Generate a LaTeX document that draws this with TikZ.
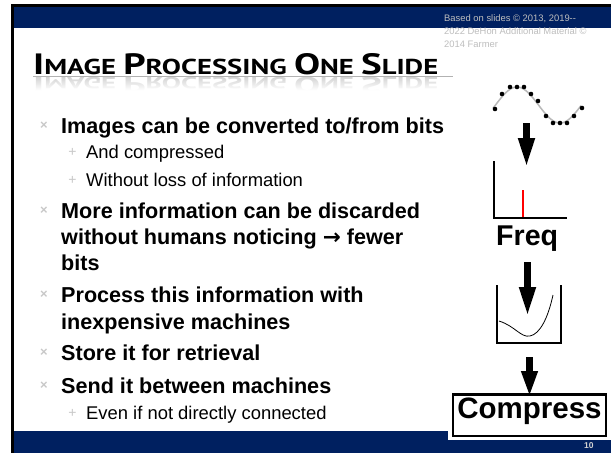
\documentclass[tikz,border=0pt]{standalone}
\usepackage{fontspec}
\usepackage{graphicx}
\setmainfont{Liberation Sans}
\newfontfamily\ptsans{PT Sans}
\newfontfamily\djv{DejaVu Sans}
\usetikzlibrary{arrows.meta}
\definecolor{navy}{RGB}{0,32,96}
\definecolor{copygray}{RGB}{190,190,190}
\definecolor{bulgray}{RGB}{200,200,200}
\newcommand\mytitletext{\ptsans\bfseries\fontsize{30}{30}\selectfont I\fontsize{22}{22}\selectfont MAGE \fontsize{30}{30}\selectfont P\fontsize{22}{22}\selectfont ROCESSING \fontsize{30}{30}\selectfont O\fontsize{22}{22}\selectfont NE \fontsize{30}{30}\selectfont S\fontsize{22}{22}\selectfont LIDE}
\begin{document}
\begin{tikzpicture}[x=1pt,y=-1pt,
  main/.style={anchor=base west, inner sep=0, font=\fontsize{21.6}{24}\selectfont\bfseries},
  subitem/.style={anchor=base west, inner sep=0, font=\fontsize{18.4}{22}\selectfont},
  bul/.style={anchor=center, inner sep=0, text=bulgray, font=\fontsize{13}{13}\selectfont\bfseries},
  subbul/.style={anchor=center, inner sep=0, text=bulgray, font=\fontsize{14}{14}\selectfont},
  copy/.style={anchor=base west, inner sep=0, text=copygray, font=\fontsize{9.4}{12}\selectfont},
  blockarrow/.style={line width=7pt, -{Triangle[length=30pt,width=15pt]}},
  axis/.style={line width=2.3pt},
  dot/.style={circle, fill=black, inner sep=0, minimum size=4.6pt}
]
\useasboundingbox (0,0) rectangle (611,453);
\fill[white] (0,0) rectangle (611,453);
% frame and bands
\fill[black] (11,4) rectangle (611,7);
\fill[navy] (14,7) rectangle (611,28);
\fill[navy] (14,431) rectangle (611,453);
\fill[black] (11,4) rectangle (14,453);
% copyright
\node[copy] (c1) at (444,21.5) {Based on slides \textcopyright{} 2013, 2019-{}-};
\node[copy] (c2) at (444,34.5) {2022 DeHon Additional Material \textcopyright};
\node[copy] (c3) at (444,47) {2014 Farmer};
% title reflection (compressed mirror, faded by white strips)
\node[anchor=base west, inner sep=0, text=gray!40] (titlerefl) at (33,77) {\scalebox{1}[-0.75]{\resizebox{405pt}{21pt}{\mytitletext}}};
\foreach \i [evaluate=\i as \op using 0.15+\i*0.065] in {0,...,13}
  \fill[white, opacity=\op] (30,{77+\i}) rectangle (460,{78.05+\i});
\fill[white] (30,91) rectangle (460,96);
% title
\node[anchor=base west, inner sep=0] (title) at (33,74) {\resizebox{405pt}{21pt}{\mytitletext}};
\draw[gray!60, line width=0.8pt] (33,76) -- (453,76);
% bullets
\node[bul] (b1) at (44,126) {×};
\node[main] (t1) at (61,133.5) {Images can be converted to/from bits};
\node[subbul] (s1) at (72.5,152) {+};
\node[subitem] (u1) at (86,158.5) {And compressed};
\node[subbul] (s2) at (72.5,180) {+};
\node[subitem] (u2) at (86,186.5) {Without loss of information};
\node[bul] (b2) at (44,211) {×};
\node[main] (t2) at (61,218.5) {More information can be discarded};
\node[main] (t2b) at (61,244.5) {without humans noticing {\djv\bfseries →} fewer};
\node[main] (t2c) at (61,270.5) {bits};
\node[bul] (b3) at (44,295) {×};
\node[main] (t3) at (61,302.5) {Process this information with};
\node[main] (t3b) at (61,329.5) {inexpensive machines};
\node[bul] (b4) at (44,353) {×};
\node[main] (t4) at (61,360.5) {Store it for retrieval};
\node[bul] (b5) at (44,386) {×};
\node[main] (t5) at (61,393.5) {Send it between machines};
\node[subbul] (s3) at (72.5,413) {+};
\node[subitem] (u3) at (86,419.5) {Even if not directly connected};
% sine
\draw[gray!55, line width=1.5pt] plot[domain=493:581, samples=60, smooth] (\x, {105-18*sin((\x-495.5)*4.186)});
\foreach \px/\py [count=\k] in {495/109,502/94,510/87,517/87,524/87,531/94,538/101,546/116,553/123,560/123,567/123,574/116,582/108}
  \node[dot] (d\k) at (\px,\py) {};
% freq plot
\draw[axis] (494,161) -- (494,218) -- (567,218);
\draw[red, line width=1.4pt] (523,190) -- (523,217);
\node[anchor=base west, inner sep=0, font=\fontsize{28.6}{30}\selectfont\bfseries] (freq) at (496,245) {Freq};
% bowl
\draw[axis] (497,285) -- (497,343) -- (561,343) -- (561,285);
\draw[black, line width=0.8pt] (499,321) .. controls (515,326) and (521,338) .. (530,336) .. controls (540,334) and (548,318) .. (553,295);
% compress box
\fill[white] (448,390) rectangle (611,440);
\node[draw, line width=2.5pt, minimum width=153pt, minimum height=41.5pt, inner sep=0, text height=21.5pt, text depth=15.5pt, font=\fontsize{29.5}{30}\selectfont\bfseries] (compress) at (529.5,415) {Compress};
% arrows
\coordinate (a1s) at (526.5,123);
\coordinate (a1e) at (526.5,168);
\coordinate (a2s) at (527.5,262);
\coordinate (a2e) at (527.5,317);
\coordinate (a3s) at (529.5,357);
\draw[blockarrow] (a1s) -- (a1e);
\draw[blockarrow] (a2s) -- (a2e);
\draw[line width=7pt, -{Triangle[length=26pt,width=15pt]}] (a3s) -- ([yshift=-4pt]compress.north);
% page number
\node[anchor=base west, inner sep=0, text=gray!35, font=\fontsize{8.5}{9}\selectfont\bfseries] (pnum) at (584,448.5) {10};
\end{tikzpicture}
\end{document}
